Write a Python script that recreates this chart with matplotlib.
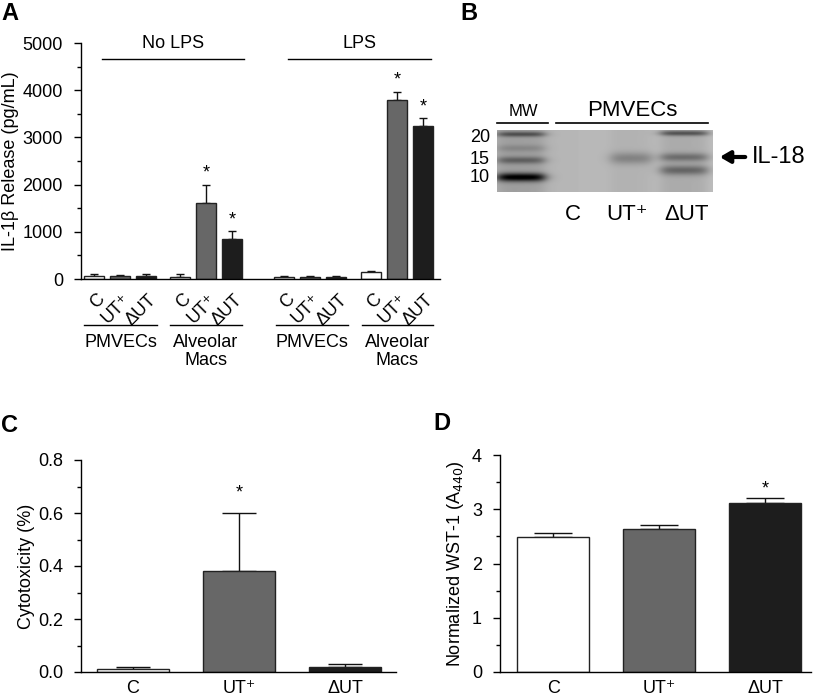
import numpy as np
import matplotlib
matplotlib.use('Agg')
from matplotlib import pyplot as plt
from matplotlib.ticker import MultipleLocator
from matplotlib.transforms import ScaledTranslation

plt.rcParams['font.family'] = ['Liberation Sans', 'DejaVu Sans']
plt.rcParams['axes.linewidth'] = 1.0

W, H = 817, 699

# panel A: IL-1beta release (pg/mL)
a_labels = ['C', 'UT\u207a', '\u0394UT']
nolps_pmvec = [70, 65, 65]
nolps_pmvec_err = [40, 25, 40]
nolps_mac = [50, 1600, 850]
nolps_mac_err = [50, 400, 170]
lps_pmvec = [50, 40, 50]
lps_pmvec_err = [15, 15, 15]
lps_mac = [150, 3800, 3250]
lps_mac_err = [20, 170, 160]
a_sig = [[False] * 3, [False, True, True], [False] * 3, [False, True, True]]
a_groups = ['PMVECs', 'Alveolar\nMacs', 'PMVECs', 'Alveolar\nMacs']
a_conditions = ['No LPS', 'LPS']

# panel B: western blot of PMVEC supernatants
b_lanes = ['C', 'UT\u207a', '\u0394UT']
mw_labels = ['20', '15', '10']

# panel C: cytotoxicity (%)
c_labels = ['C', 'UT\u207a', '\u0394UT']
cyto = [0.01, 0.38, 0.02]
cyto_err = [0.01, 0.22, 0.01]
cyto_sig = [False, True, False]

# panel D: normalized WST-1 (A440)
wst = [2.48, 2.64, 3.11]
wst_err = [0.09, 0.07, 0.09]
wst_sig = [False, False, True]

colors = ['white', '#676767', '#1d1d1d']
edge = '#222222'
FS = 13


def px(x0, y0, x1, y1):
    return [x0 / W, 1 - y1 / H, (x1 - x0) / W, (y1 - y0) / H]


def style(ax):
    for s in ['top', 'right']:
        ax.spines[s].set_visible(False)
    ax.tick_params(axis='y', which='major', direction='out', length=5, width=1, labelsize=FS, pad=8)
    ax.tick_params(axis='y', which='minor', direction='out', length=3, width=1)


fig = plt.figure(figsize=(W / 100, H / 100), dpi=100)

# ---- A ----
ax = fig.add_axes(px(81, 43, 440, 279))
style(ax)
group_start = [0, 3.31, 7.31, 10.65]
series = [nolps_pmvec, nolps_mac, lps_pmvec, lps_mac]
errs = [nolps_pmvec_err, nolps_mac_err, lps_pmvec_err, lps_mac_err]
pos_all, lab_all = [], []
for g in range(4):
    pos = group_start[g] + np.arange(3)
    ax.bar(pos, series[g], width=0.77, color=colors, edgecolor=edge, linewidth=1, zorder=2)
    ax.errorbar(pos, series[g], yerr=[np.zeros(3), errs[g]], fmt='none', ecolor='#111111',
                elinewidth=1, capsize=3, capthick=1, zorder=1)
    for i in range(3):
        if a_sig[g][i]:
            ax.annotate('*', (pos[i], series[g][i] + errs[g][i]), xytext=(0, 2),
                        textcoords='offset points', ha='center', va='bottom', fontsize=FS)
    pos_all += list(pos)
    lab_all += a_labels
ax.set_xlim(-0.5, 13.3)
ax.set_ylim(0, 5000)
ax.yaxis.set_major_locator(MultipleLocator(1000))
ax.yaxis.set_minor_locator(MultipleLocator(500))
ax.set_xticks(pos_all, lab_all, rotation=45, ha='right', va='center', rotation_mode='anchor', fontsize=FS)
ax.tick_params(axis='x', length=0, pad=13)
off = ScaledTranslation(8 / 100, 0, fig.dpi_scale_trans)
for t in ax.get_xticklabels():
    t.set_transform(t.get_transform() + off)
ax.set_ylabel('IL-1\u03b2 Release (pg/mL)', fontsize=FS)
ax.yaxis.set_label_coords((19 - 81) / 359, 0.5)

# ---- B: blot ----
bx = fig.add_axes(px(497, 130, 713, 192))
yy, xx = np.mgrid[130:192:0.5, 497:713:0.5]
lane_x = [521, 575, 631, 684]
lane_w = [46, 44, 40, 46]
lane_smear = [0.08, 0.0, 0.03, 0.07]
bands = [(0, 134, 0.33, 2.6), (0, 148, 0.10, 3.5), (0, 160, 0.26, 3.6), (0, 177, 0.66, 4.2),
         (2, 158, 0.19, 6.0), (3, 133, 0.36, 2.6), (3, 157, 0.25, 4.2), (3, 170, 0.28, 4.8)]
img = 0.70 + 0.05 * (xx - 497) / 216
for lane in range(4):
    xprof = 1 / (1 + np.exp((np.abs(xx - lane_x[lane]) - lane_w[lane] / 2) / 3.5))
    img = img - lane_smear[lane] * xprof
for lane, yc, d, sy in bands:
    xprof = 1 / (1 + np.exp((np.abs(xx - lane_x[lane]) - lane_w[lane] / 2) / 3.5))
    img = img - d * np.exp(-((yy - yc) / sy) ** 2) * xprof
bx.imshow(np.clip(img, 0, 1), cmap='gray', vmin=0, vmax=1, aspect='auto', interpolation='bilinear')
bx.axis('off')

# ---- C ----
ax = fig.add_axes(px(81, 460, 396, 672))
style(ax)
x3 = np.arange(3)
ax.bar(x3, cyto, width=0.68, color=colors, edgecolor=edge, linewidth=1, zorder=2)
ax.errorbar(x3, cyto, yerr=[np.zeros(3), cyto_err], fmt='none', ecolor='#111111',
            elinewidth=1, capsize=12, capthick=1, zorder=1)
for i in range(3):
    if cyto_sig[i]:
        ax.annotate('*', (x3[i], cyto[i] + cyto_err[i]), xytext=(0, 8),
                    textcoords='offset points', ha='center', va='bottom', fontsize=FS)
ax.set_xlim(-0.49, 2.48)
ax.set_ylim(0, 0.8)
ax.yaxis.set_minor_locator(MultipleLocator(0.1))
ax.set_yticks([0, 0.2, 0.4, 0.6, 0.8], ['0.0', '0.2', '0.4', '0.6', '0.8'])
ax.set_xticks(x3, c_labels, fontsize=FS)
ax.tick_params(axis='x', length=0, pad=6)
ax.set_ylabel('Cytotoxicity (%)', fontsize=FS)
ax.yaxis.set_label_coords((35 - 81) / 315, 0.5)

# ---- D ----
ax = fig.add_axes(px(500, 455, 811, 672))
style(ax)
ax.bar(x3, wst, width=0.68, color=colors, edgecolor=edge, linewidth=1, zorder=2)
ax.errorbar(x3, wst, yerr=[np.zeros(3), wst_err], fmt='none', ecolor='#111111',
            elinewidth=1, capsize=14, capthick=1, zorder=1)
for i in range(3):
    if wst_sig[i]:
        ax.annotate('*', (x3[i], wst[i] + wst_err[i]), xytext=(0, 1),
                    textcoords='offset points', ha='center', va='bottom', fontsize=FS)
ax.set_xlim(-0.5, 2.43)
ax.set_ylim(0, 4)
ax.yaxis.set_major_locator(MultipleLocator(1))
ax.yaxis.set_minor_locator(MultipleLocator(0.5))
ax.set_xticks(x3, c_labels, fontsize=FS)
ax.tick_params(axis='x', length=0, pad=6)
ax.set_ylabel('Normalized WST-1 (A$_{440}$)', fontsize=FS)
ax.yaxis.set_label_coords((466 - 500) / 311, 0.5)

# ---- overlay for annotations in pixel space ----
ov = fig.add_axes([0, 0, 1, 1], facecolor='none')
ov.set_xlim(0, W)
ov.set_ylim(H, 0)
ov.axis('off')

for x, s in zip([(10, 13), (469, 14), (10, 425), (442, 424)], 'ABCD'):
    ov.text(x[0], x[1], s, fontsize=17, fontweight='bold', ha='center', va='center')

# A headers and group labels
for (x0, x1), s in zip([(102, 244), (288, 431)], a_conditions):
    ov.plot([x0, x1], [59, 59], color='black', lw=1)
    ov.text((x0 + x1) / 2, 43, s, fontsize=FS, ha='center', va='center')
for (x0, x1), s in zip([(84, 157), (170, 242), (276, 348), (362, 433)], a_groups):
    ov.plot([x0, x1], [325, 325], color='black', lw=1)
    ov.text((x0 + x1) / 2, 334, s, fontsize=FS, ha='center', va='top', linespacing=1.1)

# B labels
ov.plot([497, 548], [123, 123], color='black', lw=1.2)
ov.text(523, 112, 'MW', fontsize=12, ha='center', va='center')
ov.plot([556, 708], [123, 123], color='black', lw=1.2)
ov.text(632, 110, 'PMVECs', fontsize=16, ha='center', va='center')
for y, s in zip([137, 160, 178], mw_labels):
    ov.text(490, y, s, fontsize=13, ha='right', va='center')
ov.annotate('', xy=(717, 157), xytext=(748, 157),
            arrowprops=dict(arrowstyle='-|>,head_length=0.6,head_width=0.35', color='black', lw=3))
ov.text(752, 157, 'IL-18', fontsize=17, ha='left', va='center')
for x, s in zip([573, 627, 687], b_lanes):
    ov.text(x, 214, s, fontsize=16, ha='center', va='center')

fig.savefig('out.png', dpi=100)
